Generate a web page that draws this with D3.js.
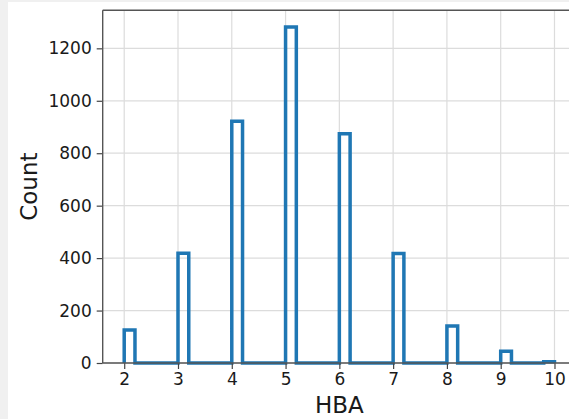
<!DOCTYPE html>
<html>
<head>
<meta charset="utf-8">
<script src="https://cdn.jsdelivr.net/npm/d3@7"></script>
<style>
  html, body { margin: 0; padding: 0; background: #fff; }
  svg { display: block; }
  text { font-family: "DejaVu Sans", sans-serif; fill: #1a1a1a; }
</style>
</head>
<body>
<script>
// HBA value of each bin and the count in it (histogram, bin width 0.2)
const hbaValues = [2, 3, 4, 5, 6, 7, 8, 9, 10];
const counts    = [126, 419, 922, 1281, 874, 418, 141, 45, 5];
const xTicks = [2, 3, 4, 5, 6, 7, 8, 9, 10];
const yTicks = [0, 200, 400, 600, 800, 1000, 1200];
const binWidth = 0.2;
const xLabel = "HBA";
const yLabel = "Count";

const W = 569, H = 419;
const plot = { left: 102.7, right: 576, top: 10.3, bottom: 363 };

const svg = d3.select("body").append("svg").attr("width", W).attr("height", H);

// light gray frame strips from the original screenshot
svg.append("rect").attr("x", 0).attr("y", 0).attr("width", 8).attr("height", H).attr("fill", "#f0f0f0");
svg.append("rect").attr("x", 0).attr("y", 0).attr("width", W).attr("height", 2).attr("fill", "#f0f0f0");

const xMin = 2, xMax = 10, pad = (xMax - xMin) * 0.05;
const x = d3.scaleLinear().domain([xMin - pad, xMax + pad]).range([plot.left, plot.right]);
const yMax = d3.max(counts) * 1.05;
const y = d3.scaleLinear().domain([0, yMax]).range([plot.bottom, plot.top]);

const g = svg.append("g");

// grid
g.selectAll(".gx").data(xTicks).enter().append("line")
  .attr("x1", d => x(d)).attr("x2", d => x(d))
  .attr("y1", plot.top).attr("y2", plot.bottom)
  .attr("stroke", "#dcdcdc").attr("stroke-width", 1.2);
g.selectAll(".gy").data(yTicks).enter().append("line")
  .attr("x1", plot.left).attr("x2", plot.right)
  .attr("y1", d => y(d)).attr("y2", d => y(d))
  .attr("stroke", "#dcdcdc").attr("stroke-width", 1.2);

// step outline
const pts = [[xMin, 0]];
hbaValues.forEach((v, i) => {
  const left = v + binWidth > xMax ? xMax - binWidth : v;
  const right = left + binWidth;
  pts.push([left, 0], [left, counts[i]], [right, counts[i]], [right, 0]);
});
pts.push([xMax, 0]);
const line = d3.line().x(d => x(d[0])).y(d => y(d[1]));
g.append("path").attr("d", line(pts))
  .attr("fill", "none").attr("stroke", "#1f77b4")
  .attr("stroke-width", 3.5).attr("stroke-linejoin", "miter");

// axes
const xAxis = d3.axisBottom(x).tickValues(xTicks).tickSize(6).tickPadding(4).tickFormat(d3.format("d"));
const yAxis = d3.axisLeft(y).tickValues(yTicks).tickSize(6).tickPadding(5).tickFormat(d3.format("d"));

const gx = svg.append("g").attr("transform", `translate(0,${plot.bottom})`).call(xAxis);
const gy = svg.append("g").attr("transform", `translate(${plot.left},0)`).call(yAxis);
[gx, gy].forEach(a => {
  a.select(".domain").remove();
  a.selectAll(".tick line").attr("stroke", "#444").attr("stroke-width", 1.2);
  a.selectAll(".tick text").attr("font-size", 17).attr("fill", "#1a1a1a")
    .attr("font-family", "DejaVu Sans, sans-serif");
});

// spines
svg.append("line").attr("x1", plot.left).attr("x2", plot.left).attr("y1", plot.top).attr("y2", plot.bottom)
  .attr("stroke", "#555").attr("stroke-width", 1.4);
svg.append("line").attr("x1", plot.left).attr("x2", plot.right).attr("y1", plot.bottom).attr("y2", plot.bottom)
  .attr("stroke", "#555").attr("stroke-width", 1.4);
svg.append("line").attr("x1", plot.left).attr("x2", plot.right).attr("y1", plot.top).attr("y2", plot.top)
  .attr("stroke", "#555").attr("stroke-width", 1.4);
svg.append("line").attr("x1", plot.right).attr("x2", plot.right).attr("y1", plot.top).attr("y2", plot.bottom)
  .attr("stroke", "#555").attr("stroke-width", 1.4);

// labels
svg.append("text").attr("x", (plot.left + plot.right) / 2).attr("y", 413)
  .attr("text-anchor", "middle").attr("font-size", 23).text(xLabel);
svg.append("text").attr("transform", `translate(37,${(plot.top + plot.bottom) / 2}) rotate(-90)`)
  .attr("text-anchor", "middle").attr("font-size", 23).text(yLabel);
</script>
</body>
</html>
